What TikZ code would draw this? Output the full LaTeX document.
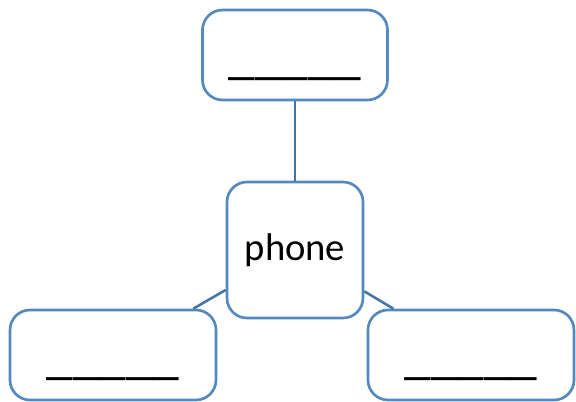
\documentclass[tikz,border=0pt]{standalone}
\usepackage{fontspec}
\setmainfont{Carlito}
\usepackage{tikz}
\usetikzlibrary{calc}
\definecolor{boxblue}{RGB}{84,137,192}
\definecolor{lineblue}{RGB}{69,114,167}
\begin{document}
\begin{tikzpicture}[x=0.75pt,y=-0.75pt,
                      box/.style={draw=boxblue,line width=2pt,rounded corners=15pt,fill=white,inner sep=0pt},
                      blank/.style={box,minimum width=154.5pt,minimum height=67.5pt,font=\fontsize{40pt}{44pt}\selectfont,text height=27pt,text depth=0pt}]
                      \useasboundingbox (0,0) rectangle (576,401);
                      \node[box,minimum width=102pt,minimum height=102pt,font=\fontsize{29pt}{34pt}\selectfont](phone)at(295,250){phone};
                      \node[blank,minimum width=138.75pt](t)at(295,55){\_\_\_\_\_};
                      \node[blank](l)at(113,355){\_\_\_\_\_};
                      \node[blank](r)at(471,355){\_\_\_\_\_};
                      \draw[lineblue,line width=1.9pt] (phone)--(t);
                      \draw[lineblue,line width=1.9pt] (phone)--(l);
                      \draw[lineblue,line width=1.9pt] (phone)--(r);
                  \end{tikzpicture}
\end{document}
